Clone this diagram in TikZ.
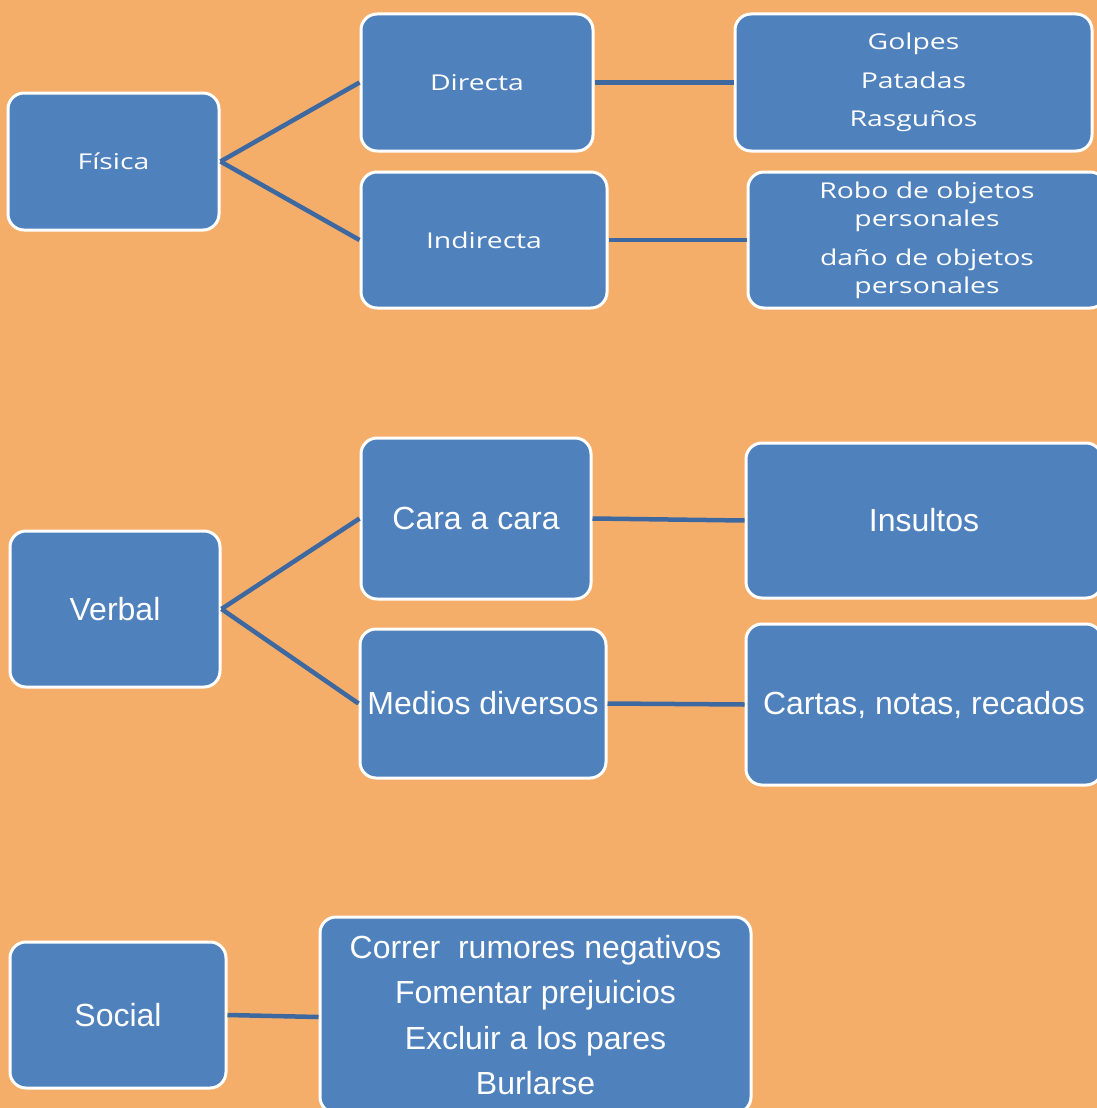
\documentclass[tikz,border=0pt]{standalone}
\usepackage{fontspec}
\newfontfamily\calfont[FakeStretch=1.3]{Open Sans}
\newfontfamily\arialfont{Liberation Sans}
\definecolor{bgorange}{RGB}{245,174,106}
\definecolor{boxblue}{RGB}{79,129,189}
\definecolor{lineblue}{RGB}{61,104,160}
\tikzset{
  box/.style={rectangle, rounded corners=16pt, fill=boxblue, draw=white,
    line width=3pt, text=white, align=center, inner sep=0pt},
  topbox/.style={box, font=\calfont\fontsize{21.8pt}{28pt}\selectfont},
  midbox/.style={box, font=\arialfont\fontsize{32pt}{38pt}\selectfont},
  lowbox/.style={box, font=\arialfont\fontsize{32pt}{45.5pt}\selectfont},
  link/.style={draw=lineblue, line width=4.5pt}
}
\begin{document}
\begin{tikzpicture}[x=1pt,y=1pt,yscale=-1,xscale=1]
                \useasboundingbox (0,0) rectangle (1097,1108);
                \fill [bgorange] (0,0) rectangle (1097,1108);
                \clip (0,0) rectangle (1097,1108);

                % Fisica
                \node (fisica) [topbox, minimum width=211pt, minimum height=137pt] at (113.5,161.5) {Física};
                \node (directa) [topbox, minimum width=232pt, minimum height=137pt] at (477,82.5) {Directa};
                \node (indirecta) [topbox, minimum width=246pt, minimum height=136pt] at (484,240) {Indirecta};
                \node (golpes) [topbox, minimum width=357pt, minimum height=137pt] at (913.5,82.5)
                  {Golpes\\[10.5pt]Patadas\\[10.5pt]Rasguños};
                \node (robo) [topbox, minimum width=358pt, minimum height=136pt] at (927,240)
                  {Robo de objetos\\personales\\[11pt]daño de objetos\\personales};

                % Verbal
                \node (verbal) [midbox, minimum width=210pt, minimum height=156pt] at (115,609) {Verbal};
                \node (cara) [midbox, minimum width=230pt, minimum height=161pt] at (476,518.5) {Cara a cara};
                \node (medios) [midbox, minimum width=246pt, minimum height=149pt] at (483,703.5) {Medios diversos};
                \node (insultos) [midbox, minimum width=356pt, minimum height=155pt] at (924,520.5) {Insultos};
                \node (cartas) [midbox, minimum width=356pt, minimum height=161pt] at (924,704.5) {Cartas, notas, recados};

                % Social
                \node (social) [lowbox, minimum width=216pt, minimum height=146pt] at (118,1015) {Social};
                \node (correr) [lowbox, minimum width=431pt, minimum height=196pt] at (535.5,1015)
                  {Correr\ \ rumores negativos\\Fomentar prejuicios\\Excluir a los pares\\Burlarse};

                %Straight Lines
                \draw [link] (fisica.east) -- (directa.west);
                \draw [link] (fisica.east) -- (indirecta.west);
                \draw [link] (directa.east) -- (golpes.west);
                \draw [link] (indirecta.east) -- (robo.west);
                \draw [link] (verbal.east) -- (cara.west);
                \draw [link] (verbal.east) -- (medios.west);
                \draw [link] (cara.east) -- (insultos.west);
                \draw [link] (medios.east) -- (cartas.west);
                \draw [link] (social.east) -- ([yshift=2pt]correr.west);
            \end{tikzpicture}
\end{document}
